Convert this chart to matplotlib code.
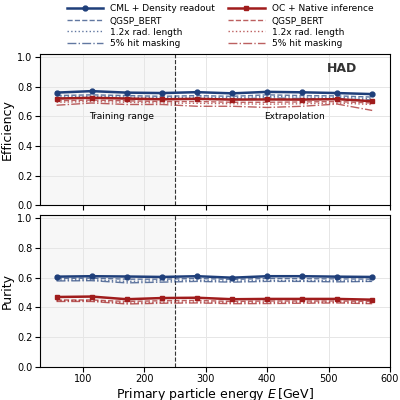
import numpy as np
import matplotlib.pyplot as plt

energy = [57, 114, 171, 229, 286, 343, 400, 457, 514, 571]

eff_cml = [0.76, 0.77, 0.76, 0.757, 0.763, 0.755, 0.765, 0.762, 0.757, 0.75]
eff_cml_qgsp = [0.74, 0.745, 0.74, 0.735, 0.74, 0.735, 0.745, 0.74, 0.738, 0.73]
eff_cml_rad = [0.73, 0.735, 0.73, 0.725, 0.73, 0.725, 0.735, 0.73, 0.728, 0.72]
eff_cml_mask = [0.72, 0.725, 0.72, 0.715, 0.72, 0.715, 0.725, 0.72, 0.718, 0.71]
eff_oc = [0.72, 0.725, 0.72, 0.715, 0.718, 0.713, 0.714, 0.713, 0.716, 0.702]
eff_oc_qgsp = [0.705, 0.71, 0.705, 0.70, 0.70, 0.695, 0.695, 0.697, 0.70, 0.69]
eff_oc_rad = [0.695, 0.70, 0.695, 0.69, 0.688, 0.685, 0.682, 0.685, 0.69, 0.68]
eff_oc_mask = [0.675, 0.69, 0.68, 0.68, 0.668, 0.668, 0.66, 0.668, 0.683, 0.64]

pur_cml = [0.607, 0.61, 0.608, 0.605, 0.61, 0.6, 0.61, 0.61, 0.607, 0.605]
pur_cml_qgsp = [0.595, 0.597, 0.59, 0.59, 0.595, 0.588, 0.595, 0.593, 0.592, 0.59]
pur_cml_rad = [0.585, 0.587, 0.575, 0.58, 0.583, 0.577, 0.583, 0.58, 0.58, 0.578]
pur_cml_mask = [0.578, 0.58, 0.565, 0.57, 0.575, 0.57, 0.575, 0.575, 0.572, 0.575]
pur_oc = [0.47, 0.473, 0.455, 0.463, 0.465, 0.455, 0.457, 0.457, 0.457, 0.452]
pur_oc_qgsp = [0.45, 0.45, 0.44, 0.445, 0.447, 0.44, 0.443, 0.443, 0.443, 0.44]
pur_oc_rad = [0.445, 0.445, 0.43, 0.435, 0.437, 0.432, 0.433, 0.435, 0.435, 0.43]
pur_oc_mask = [0.44, 0.44, 0.423, 0.428, 0.43, 0.425, 0.426, 0.428, 0.43, 0.425]

blue = '#1f3f7a'
red = '#a01c1c'

fig, axes = plt.subplots(2, 1, figsize=(4, 4), dpi=100, sharex=True)
fig.subplots_adjust(left=0.1, right=0.975, top=0.865, bottom=0.083, hspace=0.065)

panels = [
    (axes[0], 'Efficiency', [eff_cml, eff_cml_qgsp, eff_cml_rad, eff_cml_mask],
     [eff_oc, eff_oc_qgsp, eff_oc_rad, eff_oc_mask]),
    (axes[1], 'Purity', [pur_cml, pur_cml_qgsp, pur_cml_rad, pur_cml_mask],
     [pur_oc, pur_oc_qgsp, pur_oc_rad, pur_oc_mask]),
]
styles = ['--', ':', '-.']
names = ['QGSP_BERT', '1.2x rad. length', '5% hit masking']

for ax, ylabel, cml, oc in panels:
    ax.axvspan(30, 250, color='#f7f7f7', zorder=0)
    ax.axvline(250, color='#333333', ls='--', lw=0.8)
    for vals, ls, nm in zip(cml[1:], styles, names):
        ax.plot(energy, vals, ls=ls, color=blue, alpha=0.7, lw=1.0, label=nm)
    for vals, ls, nm in zip(oc[1:], styles, names):
        ax.plot(energy, vals, ls=ls, color=red, alpha=0.7, lw=1.0, label=nm)
    ax.plot(energy, cml[0], '-o', color=blue, lw=1.8, ms=3.5, label='CML + Density readout')
    ax.plot(energy, oc[0], '-s', color=red, lw=1.8, ms=3.5, label='OC + Native inference')
    ax.set_ylim(0, 1.02)
    ax.set_xlim(30, 600)
    ax.set_ylabel(ylabel, fontsize=9, labelpad=2)
    ax.grid(color='#e6e6e6', lw=0.7)
    ax.tick_params(labelsize=7, pad=2)

axes[0].text(0.14, 0.57, 'Training range', transform=axes[0].transAxes, fontsize=6.5)
axes[0].text(0.64, 0.57, 'Extrapolation', transform=axes[0].transAxes, fontsize=6.5)
axes[0].text(0.82, 0.88, 'HAD', transform=axes[0].transAxes, fontsize=9, fontweight='bold', color='#333333')
axes[1].set_xlabel('Primary particle energy $E\\,$[GeV]', fontsize=9, labelpad=1)

h, l = axes[0].get_legend_handles_labels()
order = [6, 0, 1, 2, 7, 3, 4, 5]
fig.legend([h[i] for i in order], [l[i] for i in order], ncol=2, loc='upper center',
           bbox_to_anchor=(0.55, 1.01), frameon=False, fontsize=6.5,
           handlelength=4, labelspacing=0.3, columnspacing=1.5)

plt.savefig('out.png')
